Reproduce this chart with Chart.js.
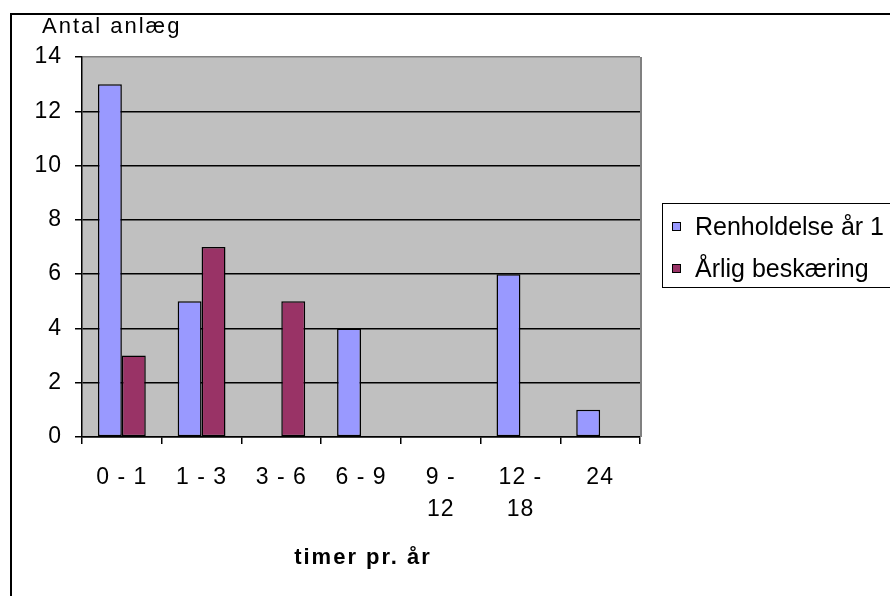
<!DOCTYPE html>
<html>
<head>
<meta charset="utf-8">
<script src="https://cdn.jsdelivr.net/npm/chart.js@4/dist/chart.umd.min.js"></script>
<style>
  html, body { margin: 0; padding: 0; background: #ffffff; }
  #wrap { width: 890px; height: 596px; }
  canvas { display: block; }
</style>
</head>
<body>
<div id="wrap"><canvas id="chart" width="890" height="596"></canvas></div>
<script>
// Timer pr. år fordelt på anlæg
const categories = ['0 - 1', '1 - 3', '3 - 6', '6 - 9', ['9 -', '12'], ['12 -', '18'], '24'];
const renholdelse = [13, 5, 0, 4, 0, 6, 1];
const beskaering = [3, 7, 5, 0, 0, 0, 0];
const seriesNames = ['Renholdelse år 1', 'Årlig beskæring'];
const yTitle = 'Antal anlæg';
const xTitle = 'timer pr. år';
const yMin = 0, yMax = 14, yStep = 2;

const FONT = "'Liberation Sans', Arial, sans-serif";
const COLORS = ['#9999FF', '#993366'];
const PLOT_BG = '#C0C0C0';

const framePlugin = {
  id: 'frame',
  beforeDraw(chart) {
    const { ctx, chartArea: a } = chart;
    ctx.fillStyle = '#ffffff';
    ctx.fillRect(0, 0, chart.width, chart.height);
    ctx.fillStyle = PLOT_BG;
    ctx.fillRect(a.left, a.top, a.right - a.left, a.bottom - a.top);
    ctx.letterSpacing = '1px';
  },
  afterDraw(chart) {
    const { ctx, chartArea: a } = chart;
    ctx.save();
    // plot area right edge
    ctx.strokeStyle = '#808080';
    ctx.lineWidth = 2;
    ctx.beginPath();
    ctx.moveTo(a.right + 1, a.top);
    ctx.lineTo(a.right + 1, a.bottom);
    ctx.stroke();

    // outer chart frame
    ctx.strokeStyle = '#000000';
    ctx.lineWidth = 2;
    ctx.beginPath();
    ctx.moveTo(11, chart.height + 2);
    ctx.lineTo(11, 14);
    ctx.lineTo(chart.width + 2, 14);
    ctx.stroke();

    // axis titles
    ctx.fillStyle = '#000000';
    ctx.letterSpacing = '2px';
    ctx.font = '22px ' + FONT;
    ctx.textAlign = 'left';
    ctx.textBaseline = 'alphabetic';
    ctx.fillText(yTitle, 42, 33);
    ctx.font = 'bold 22px ' + FONT;
    ctx.textAlign = 'center';
    ctx.textBaseline = 'middle';
    ctx.fillText(xTitle, (a.left + a.right) / 2 + 2, 558);

    // legend
    ctx.letterSpacing = '0px';
    ctx.lineWidth = 1;
    ctx.strokeStyle = '#000000';
    ctx.strokeRect(662.5, 203.5, 260, 84);
    ctx.font = '25px ' + FONT;
    ctx.textAlign = 'left';
    ctx.textBaseline = 'middle';
    const rows = [227, 269];
    chart.data.datasets.forEach((ds, i) => {
      const y = rows[i];
      ctx.fillStyle = ds.backgroundColor;
      ctx.fillRect(672, y - 4, 8, 8);
      ctx.strokeRect(672.5, y - 4.5, 8, 8);
      ctx.fillStyle = '#000000';
      ctx.fillText(ds.label, 695, y + 1);
    });
    ctx.restore();
  }
};

new Chart(document.getElementById('chart'), {
  type: 'bar',
  data: {
    labels: categories,
    datasets: [
      { label: seriesNames[0], data: renholdelse, backgroundColor: COLORS[0] },
      { label: seriesNames[1], data: beskaering, backgroundColor: COLORS[1] }
    ]
  },
  options: {
    responsive: false,
    animation: false,
    devicePixelRatio: 1,
    layout: { padding: { top: 57, right: 250, left: 0, bottom: 0 } },
    datasets: {
      bar: {
        categoryPercentage: 0.6,
        barPercentage: 1.0,
        borderColor: '#000000',
        borderWidth: 1.5,
        borderSkipped: false
      }
    },
    plugins: {
      legend: { display: false },
      tooltip: { enabled: false },
      title: { display: false }
    },
    scales: {
      x: {
        offset: true,
        afterFit(scale) { scale.height = 159; },
        border: { display: true, color: '#000000', width: 1.5 },
        grid: {
          display: true,
          offset: true,
          drawOnChartArea: false,
          drawTicks: true,
          tickLength: 7,
          tickColor: '#000000',
          color: '#000000',
          lineWidth: 1.5
        },
        ticks: {
          color: '#000000',
          font: { family: FONT, size: 23, lineHeight: 1.42 },
          padding: 17,
          maxRotation: 0,
          autoSkip: false
        }
      },
      y: {
        min: yMin,
        max: yMax,
        afterFit(scale) { scale.width = 82; },
        border: { display: true, color: '#000000', width: 1.5 },
        grid: {
          display: true,
          drawTicks: true,
          tickLength: 7,
          tickColor: '#000000',
          color: (c) => (c.tick && c.tick.value === yMax ? '#808080' : '#000000'),
          lineWidth: 1.5
        },
        ticks: {
          stepSize: yStep,
          color: '#000000',
          font: { family: FONT, size: 23 },
          padding: 13
        }
      }
    }
  },
  plugins: [framePlugin]
});
</script>
</body>
</html>
